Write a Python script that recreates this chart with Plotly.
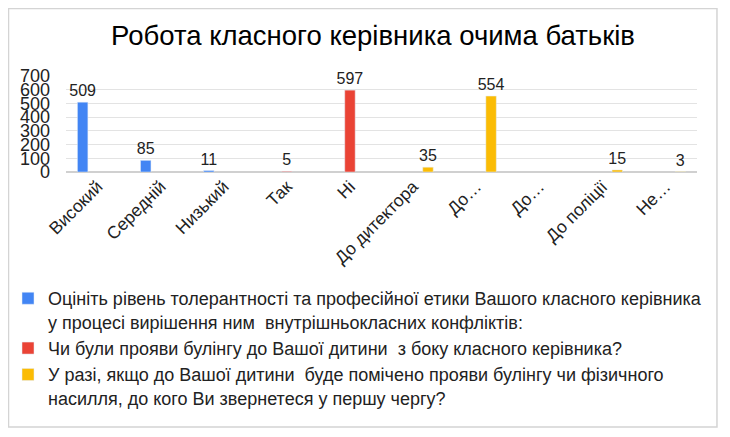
import plotly.graph_objects as go

# categories (answers) - two labels are truncated "До…" in the original
categories = ['Високий', 'Середній', 'Низький', 'Так', 'Ні', 'До дитектора',
              'До…', 'До…', 'До поліції', 'Не…']
positions = list(range(len(categories)))

# one series per survey question
tolerance = [509, 85, 11, None, None, None, None, None, None, None]
bullying = [None, None, None, 5, 597, None, None, None, None, None]
whom_to_ask = [None, None, None, None, None, 35, 554, None, 15, 3]

names = [
    'Оцініть рівень толерантності та професійної етики Вашого класного керівника<br>'
    'у процесі вирішення ним  внутрішньокласних конфліктів:',
    'Чи були прояви булінгу до Вашої дитини  з боку класного керівника?',
    'У разі, якщо до Вашої дитини  буде помічено прояви булінгу чи фізичного<br>'
    'насилля, до кого Ви звернетеся у першу чергу?',
]
colors = ['#4285F4', '#EA4335', '#FBBC04']

font = 'Liberation Sans, Arial, sans-serif'

fig = go.Figure()
for name, vals, col in zip(names, [tolerance, bullying, whom_to_ask], colors):
    fig.add_trace(go.Bar(
        x=positions, y=vals, name=name, marker_color=col,
        text=[v if v is not None else '' for v in vals],
        textposition='outside', cliponaxis=False, constraintext='none',
        textfont=dict(size=16, color='#222222', family=font),
    ))

# zero side margins + axis domains, so the legend sits inside the paper
fig.update_layout(
    width=730, height=437,
    margin=dict(l=0, r=0, t=68, b=0),
    paper_bgcolor='white', plot_bgcolor='white',
    barmode='group', bargap=0.29, bargroupgap=0.3,
    title=dict(text='Робота класного керівника очима батьків',
               x=0.5, xanchor='center', y=0.937, yanchor='middle',
               font=dict(size=27.5, color='#000000', family=font)),
    font=dict(family=font, color='#222222'),
    xaxis=dict(domain=[0.0795, 0.9438],
               tickmode='array', tickvals=positions, ticktext=categories,
               range=[-0.5, len(categories) - 0.5], tickangle=-45,
               tickfont=dict(size=17.5, color='#222222'), automargin=False,
               showgrid=False, showline=False, zeroline=False, ticks=''),
    yaxis=dict(domain=[0.7398, 1], range=[0, 700], dtick=100,
               tickfont=dict(size=18, color='#222222'),
               gridcolor='#e3e3e3', zeroline=True, zerolinecolor='#d0d0d0',
               showline=False, ticks='', ticklabelstandoff=15, automargin=False),
    legend=dict(x=0, xanchor='left', y=0.447, yanchor='top',
                orientation='v', valign='top', tracegroupgap=0,
                font=dict(size=18, color='#222222'),
                itemwidth=30, bgcolor='rgba(0,0,0,0)'),
    showlegend=True,
)

# outer frame of the chart image
fig.add_shape(type='rect', xref='paper', yref='paper',
              x0=0.0007, x1=0.9712, y0=0.0488, y1=1.183,
              line=dict(color='#d4d4d4', width=1.5), fillcolor='rgba(0,0,0,0)')

fig.write_html('out.html')
